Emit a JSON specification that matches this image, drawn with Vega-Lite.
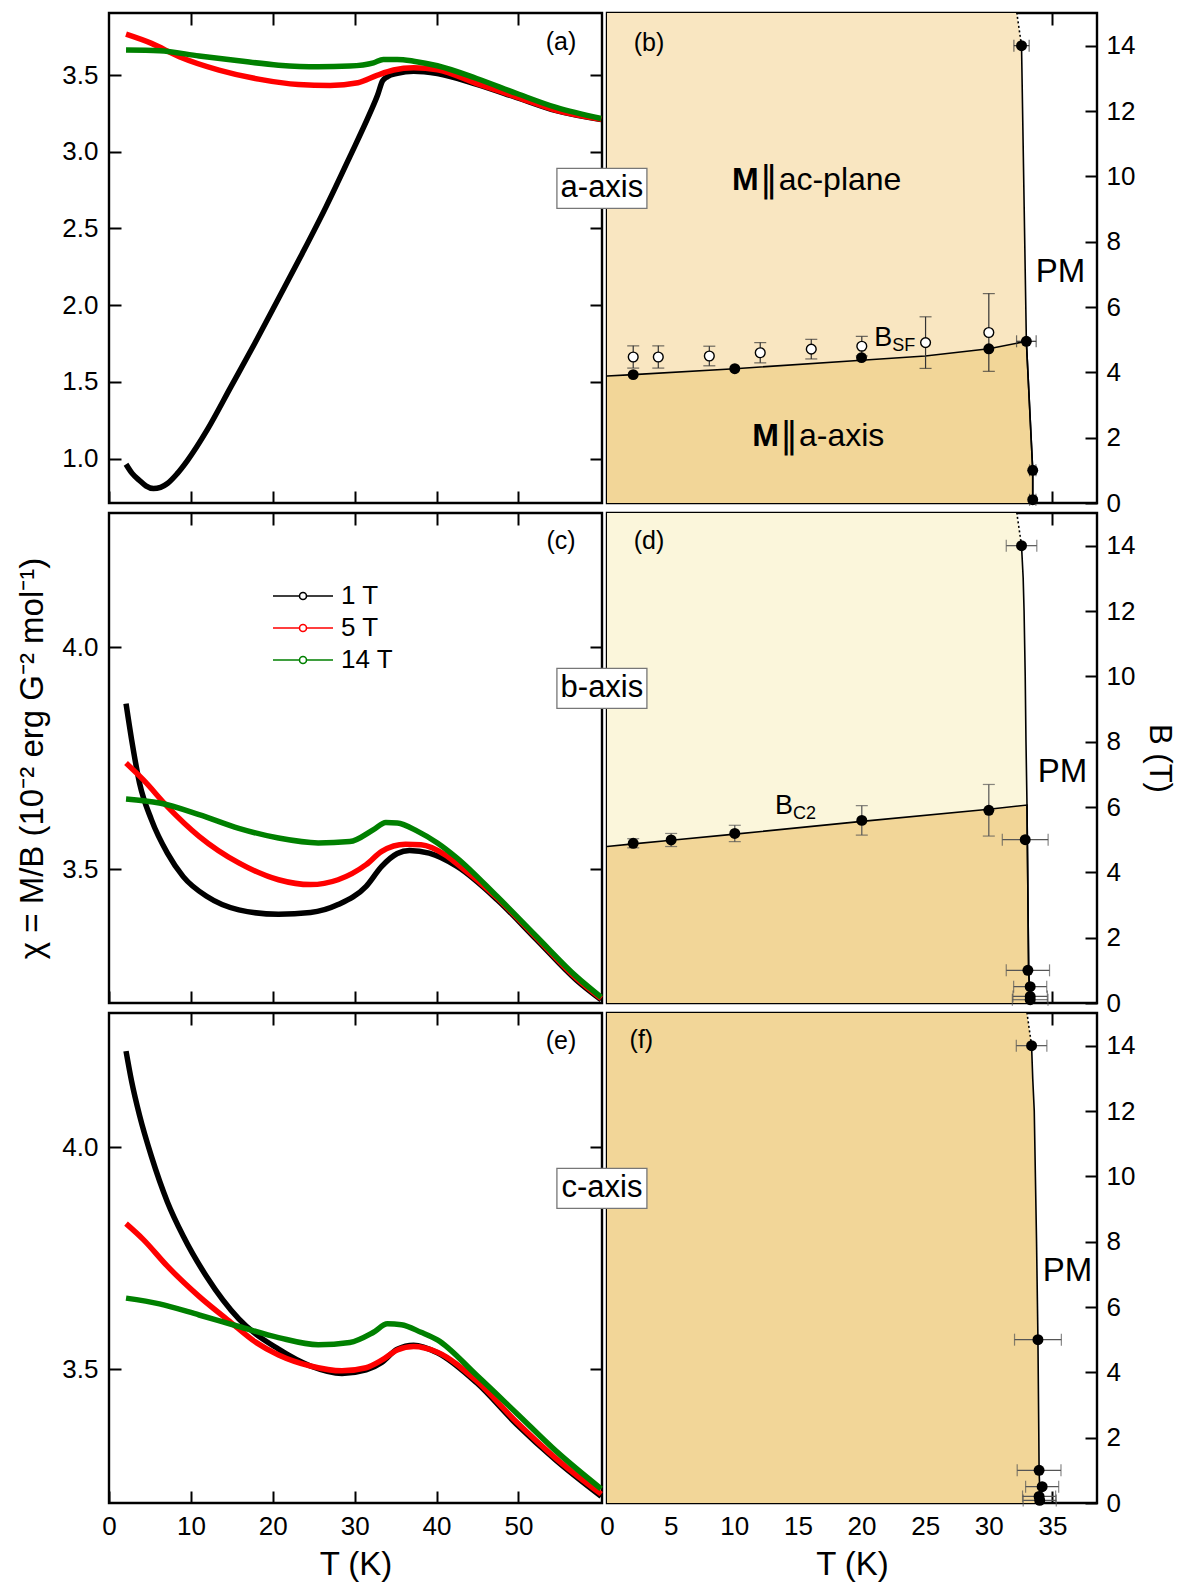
{
  "$schema": "https://vega.github.io/schema/vega-lite/v6.json",
  "background": "white",
  "padding": {"left": 15, "top": 8, "right": 0, "bottom": 4},
  "config": {
    "font": "Liberation Sans",
    "view": {"stroke": "black", "strokeWidth": 2.4},
    "axis": {
      "domain": false, "grid": false, "zindex": 1,
      "tickColor": "black", "tickWidth": 2, "tickSize": -12,
      "labelFont": "Liberation Sans", "labelFontSize": 26, "labelColor": "black",
      "labelOverlap": false, "labelFlush": false, "labelBound": false,
      "titleFont": "Liberation Sans", "titleFontSize": 33, "titleFontWeight": "normal", "titleColor": "black"
    },
    "axisLeft": {"labelPadding": 23, "titlePadding": 12},
    "axisRight": {"labelPadding": 21, "titlePadding": 8, "titleFontSize": 31},
    "axisBottom": {"labelPadding": 22, "titlePadding": 9},
    "text": {"color": "black"}
  },
  "columns": 2,
  "spacing": {"row": 10, "column": 5},
  "bounds": "flush",
  "resolve": {"scale": {"color": "independent"}, "legend": {"color": "independent"}},
  "datasets": {
    "chi_a": [
      {"field": "1 T", "T": 2.08, "chi": 0.963}, {"field": "1 T", "T": 2.8, "chi": 0.905}, {"field": "1 T", "T": 3.73, "chi": 0.857},
      {"field": "1 T", "T": 4.5, "chi": 0.822}, {"field": "1 T", "T": 5.43, "chi": 0.804}, {"field": "1 T", "T": 6.3, "chi": 0.812},
      {"field": "1 T", "T": 7.13, "chi": 0.837}, {"field": "1 T", "T": 8.3, "chi": 0.9}, {"field": "1 T", "T": 9.55, "chi": 0.985},
      {"field": "1 T", "T": 11.97, "chi": 1.185}, {"field": "1 T", "T": 14.88, "chi": 1.467}, {"field": "1 T", "T": 17.79, "chi": 1.75},
      {"field": "1 T", "T": 20.7, "chi": 2.043}, {"field": "1 T", "T": 23.6, "chi": 2.337}, {"field": "1 T", "T": 26.5, "chi": 2.641},
      {"field": "1 T", "T": 29.4, "chi": 2.967}, {"field": "1 T", "T": 31.85, "chi": 3.25}, {"field": "1 T", "T": 32.8, "chi": 3.37},
      {"field": "1 T", "T": 33.4, "chi": 3.462}, {"field": "1 T", "T": 34.0, "chi": 3.49}, {"field": "1 T", "T": 35.2, "chi": 3.512},
      {"field": "1 T", "T": 37.2, "chi": 3.526},
      {"field": "1 T", "T": 40.1, "chi": 3.51}, {"field": "1 T", "T": 44.9, "chi": 3.44}, {"field": "1 T", "T": 49.8, "chi": 3.353},
      {"field": "1 T", "T": 54.6, "chi": 3.268}, {"field": "1 T", "T": 60.1, "chi": 3.21},
      {"field": "5 T", "T": 2.08, "chi": 3.767}, {"field": "5 T", "T": 5.19, "chi": 3.707}, {"field": "5 T", "T": 8.58, "chi": 3.62},
      {"field": "5 T", "T": 13.43, "chi": 3.533}, {"field": "5 T", "T": 18.27, "chi": 3.474}, {"field": "5 T", "T": 23.12, "chi": 3.439},
      {"field": "5 T", "T": 27.0, "chi": 3.433}, {"field": "5 T", "T": 30.4, "chi": 3.45}, {"field": "5 T", "T": 32.8, "chi": 3.5},
      {"field": "5 T", "T": 34.75, "chi": 3.533}, {"field": "5 T", "T": 37.2, "chi": 3.548}, {"field": "5 T", "T": 40.1, "chi": 3.535},
      {"field": "5 T", "T": 44.9, "chi": 3.445}, {"field": "5 T", "T": 49.8, "chi": 3.357}, {"field": "5 T", "T": 54.6, "chi": 3.27},
      {"field": "5 T", "T": 60.1, "chi": 3.212},
      {"field": "14 T", "T": 2.08, "chi": 3.663}, {"field": "14 T", "T": 6.16, "chi": 3.659}, {"field": "14 T", "T": 11.0, "chi": 3.624},
      {"field": "14 T", "T": 15.85, "chi": 3.593}, {"field": "14 T", "T": 20.7, "chi": 3.565}, {"field": "14 T", "T": 25.55, "chi": 3.554},
      {"field": "14 T", "T": 29.4, "chi": 3.559}, {"field": "14 T", "T": 32.3, "chi": 3.58}, {"field": "14 T", "T": 33.5, "chi": 3.602},
      {"field": "14 T", "T": 35.2, "chi": 3.602}, {"field": "14 T", "T": 37.2, "chi": 3.591}, {"field": "14 T", "T": 40.1, "chi": 3.561},
      {"field": "14 T", "T": 44.9, "chi": 3.478}, {"field": "14 T", "T": 49.8, "chi": 3.38}, {"field": "14 T", "T": 54.6, "chi": 3.289},
      {"field": "14 T", "T": 60.1, "chi": 3.217}
    ],
    "chi_c": [
      {"field": "1 T", "T": 2.08, "chi": 3.873}, {"field": "1 T", "T": 2.76, "chi": 3.792}, {"field": "1 T", "T": 3.73, "chi": 3.694},
      {"field": "1 T", "T": 5.19, "chi": 3.611}, {"field": "1 T", "T": 7.13, "chi": 3.536}, {"field": "1 T", "T": 9.06, "chi": 3.483},
      {"field": "1 T", "T": 11.97, "chi": 3.438}, {"field": "1 T", "T": 15.85, "chi": 3.408}, {"field": "1 T", "T": 20.7, "chi": 3.398},
      {"field": "1 T", "T": 24.6, "chi": 3.402}, {"field": "1 T", "T": 27.97, "chi": 3.42}, {"field": "1 T", "T": 31.4, "chi": 3.461},
      {"field": "1 T", "T": 33.3, "chi": 3.506}, {"field": "1 T", "T": 35.2, "chi": 3.535}, {"field": "1 T", "T": 36.7, "chi": 3.542},
      {"field": "1 T", "T": 39.1, "chi": 3.536}, {"field": "1 T", "T": 42.5, "chi": 3.506}, {"field": "1 T", "T": 47.4, "chi": 3.431},
      {"field": "1 T", "T": 52.2, "chi": 3.341}, {"field": "1 T", "T": 57.05, "chi": 3.25}, {"field": "1 T", "T": 60.1, "chi": 3.205},
      {"field": "5 T", "T": 2.08, "chi": 3.739}, {"field": "5 T", "T": 4.2, "chi": 3.701}, {"field": "5 T", "T": 7.13, "chi": 3.641},
      {"field": "5 T", "T": 11.0, "chi": 3.574}, {"field": "5 T", "T": 15.85, "chi": 3.514}, {"field": "5 T", "T": 20.7, "chi": 3.476},
      {"field": "5 T", "T": 24.6, "chi": 3.465}, {"field": "5 T", "T": 27.97, "chi": 3.476}, {"field": "5 T", "T": 31.4, "chi": 3.51},
      {"field": "5 T", "T": 33.3, "chi": 3.54}, {"field": "5 T", "T": 36.2, "chi": 3.556}, {"field": "5 T", "T": 38.1, "chi": 3.555},
      {"field": "5 T", "T": 41.06, "chi": 3.532}, {"field": "5 T", "T": 42.5, "chi": 3.512}, {"field": "5 T", "T": 47.4, "chi": 3.435},
      {"field": "5 T", "T": 52.2, "chi": 3.345}, {"field": "5 T", "T": 57.05, "chi": 3.254}, {"field": "5 T", "T": 60.1, "chi": 3.208},
      {"field": "14 T", "T": 2.08, "chi": 3.658}, {"field": "14 T", "T": 6.16, "chi": 3.649}, {"field": "14 T", "T": 11.0, "chi": 3.623},
      {"field": "14 T", "T": 15.85, "chi": 3.592}, {"field": "14 T", "T": 20.7, "chi": 3.57}, {"field": "14 T", "T": 25.55, "chi": 3.559},
      {"field": "14 T", "T": 29.4, "chi": 3.562}, {"field": "14 T", "T": 32.3, "chi": 3.589}, {"field": "14 T", "T": 33.8, "chi": 3.605},
      {"field": "14 T", "T": 35.2, "chi": 3.604}, {"field": "14 T", "T": 37.7, "chi": 3.585}, {"field": "14 T", "T": 40.1, "chi": 3.559},
      {"field": "14 T", "T": 42.5, "chi": 3.525}, {"field": "14 T", "T": 47.4, "chi": 3.438}, {"field": "14 T", "T": 52.2, "chi": 3.348},
      {"field": "14 T", "T": 57.05, "chi": 3.258}, {"field": "14 T", "T": 60.1, "chi": 3.211}
    ],
    "chi_e": [
      {"field": "1 T", "T": 2.08, "chi": 4.217}, {"field": "1 T", "T": 2.76, "chi": 4.149}, {"field": "1 T", "T": 3.73, "chi": 4.072},
      {"field": "1 T", "T": 5.19, "chi": 3.979}, {"field": "1 T", "T": 7.13, "chi": 3.877}, {"field": "1 T", "T": 9.06, "chi": 3.8},
      {"field": "1 T", "T": 11.97, "chi": 3.707}, {"field": "1 T", "T": 15.85, "chi": 3.613}, {"field": "1 T", "T": 20.7, "chi": 3.545},
      {"field": "1 T", "T": 24.6, "chi": 3.507}, {"field": "1 T", "T": 28.45, "chi": 3.49}, {"field": "1 T", "T": 31.4, "chi": 3.498},
      {"field": "1 T", "T": 33.3, "chi": 3.515}, {"field": "1 T", "T": 35.2, "chi": 3.545}, {"field": "1 T", "T": 37.2, "chi": 3.554},
      {"field": "1 T", "T": 40.1, "chi": 3.537}, {"field": "1 T", "T": 44.9, "chi": 3.469}, {"field": "1 T", "T": 49.8, "chi": 3.375},
      {"field": "1 T", "T": 54.6, "chi": 3.294}, {"field": "1 T", "T": 60.1, "chi": 3.213},
      {"field": "5 T", "T": 2.08, "chi": 3.828}, {"field": "5 T", "T": 4.2, "chi": 3.792}, {"field": "5 T", "T": 7.13, "chi": 3.732},
      {"field": "5 T", "T": 11.0, "chi": 3.664}, {"field": "5 T", "T": 14.9, "chi": 3.605}, {"field": "5 T", "T": 17.8, "chi": 3.562},
      {"field": "5 T", "T": 20.7, "chi": 3.532}, {"field": "5 T", "T": 24.6, "chi": 3.507}, {"field": "5 T", "T": 28.45, "chi": 3.496},
      {"field": "5 T", "T": 31.4, "chi": 3.503}, {"field": "5 T", "T": 33.3, "chi": 3.52}, {"field": "5 T", "T": 35.2, "chi": 3.543},
      {"field": "5 T", "T": 37.2, "chi": 3.551}, {"field": "5 T", "T": 40.1, "chi": 3.538}, {"field": "5 T", "T": 44.9, "chi": 3.473},
      {"field": "5 T", "T": 49.8, "chi": 3.38}, {"field": "5 T", "T": 54.6, "chi": 3.298}, {"field": "5 T", "T": 60.1, "chi": 3.218},
      {"field": "14 T", "T": 2.08, "chi": 3.66}, {"field": "14 T", "T": 6.16, "chi": 3.647}, {"field": "14 T", "T": 11.0, "chi": 3.622},
      {"field": "14 T", "T": 15.85, "chi": 3.596}, {"field": "14 T", "T": 20.7, "chi": 3.571}, {"field": "14 T", "T": 25.55, "chi": 3.555},
      {"field": "14 T", "T": 29.4, "chi": 3.56}, {"field": "14 T", "T": 32.3, "chi": 3.583}, {"field": "14 T", "T": 34.0, "chi": 3.602},
      {"field": "14 T", "T": 35.7, "chi": 3.6}, {"field": "14 T", "T": 38.1, "chi": 3.583}, {"field": "14 T", "T": 40.1, "chi": 3.566},
      {"field": "14 T", "T": 44.9, "chi": 3.486}, {"field": "14 T", "T": 49.8, "chi": 3.4}, {"field": "14 T", "T": 54.6, "chi": 3.315},
      {"field": "14 T", "T": 60.1, "chi": 3.23}
    ],
    "b_tc": [
      {"T": 33.45, "B": 0, "segment": "measured"}, {"T": 33.45, "B": 1.0, "segment": "measured"},
      {"T": 32.95, "B": 4.95, "segment": "measured"}, {"T": 32.57, "B": 14, "segment": "measured"},
      {"T": 32.57, "B": 14, "segment": "extrapolated"}, {"T": 32.2, "B": 15, "segment": "extrapolated"}
    ],
    "b_lower": [
      {"T": 0, "B": 3.89}, {"T": 2.06, "B": 3.93}, {"T": 10.04, "B": 4.11}, {"T": 20.0, "B": 4.37},
      {"T": 25.0, "B": 4.5}, {"T": 30.0, "B": 4.72}, {"T": 32.95, "B": 4.95}, {"T": 33.45, "B": 1.0}, {"T": 33.45, "B": 0}
    ],
    "b_tcpts": [
      {"T": 32.57, "B": 14, "dT": 0.6}, {"T": 32.95, "B": 4.95, "dT": 0.77},
      {"T": 33.45, "B": 1.0, "dT": 0.25}, {"T": 33.45, "B": 0.1, "dT": 0.25}
    ],
    "b_sf_filled": [
      {"T": 2.06, "B": 3.93}, {"T": 10.04, "B": 4.11}, {"T": 20.0, "B": 4.45}, {"T": 30.0, "B": 4.72}
    ],
    "b_sf_open": [
      {"T": 2.06, "B": 4.47, "dB": 0.34}, {"T": 4.03, "B": 4.47, "dB": 0.34}, {"T": 8.04, "B": 4.5, "dB": 0.3},
      {"T": 12.04, "B": 4.6, "dB": 0.31}, {"T": 16.05, "B": 4.71, "dB": 0.3}, {"T": 20.02, "B": 4.8, "dB": 0.3},
      {"T": 25.03, "B": 4.91, "dB": 0.79}, {"T": 30.0, "B": 5.22, "dB": 1.19}
    ],
    "b_regions": [
      {"T": 12.7, "B": 9.9, "head": "M", "tail": "ac-plane"},
      {"T": 14.3, "B": 2.05, "head": "M", "tail": "a-axis"}
    ],
    "b_sublabel": [{"T": 21.0, "B": 5.06, "main": "B", "sub": "SF"}],
    "d_tc": [
      {"T": 33.25, "B": 0, "segment": "measured"}, {"T": 33.13, "B": 1.0, "segment": "measured"},
      {"T": 33.0, "B": 6.06, "segment": "measured"}, {"T": 32.92, "B": 8, "segment": "measured"},
      {"T": 32.86, "B": 10, "segment": "measured"}, {"T": 32.77, "B": 12, "segment": "measured"},
      {"T": 32.7, "B": 13, "segment": "measured"}, {"T": 32.57, "B": 14, "segment": "measured"},
      {"T": 32.57, "B": 14, "segment": "extrapolated"}, {"T": 32.2, "B": 15, "segment": "extrapolated"}
    ],
    "d_lower": [
      {"T": 0, "B": 4.79}, {"T": 2.06, "B": 4.87}, {"T": 5.04, "B": 4.98}, {"T": 10.04, "B": 5.17},
      {"T": 20.02, "B": 5.56}, {"T": 30.0, "B": 5.93}, {"T": 33.0, "B": 6.06}, {"T": 33.13, "B": 1.0}, {"T": 33.25, "B": 0}
    ],
    "d_tcpts": [
      {"T": 32.57, "B": 14, "dT": 1.2}, {"T": 32.86, "B": 5.0, "dT": 1.8}, {"T": 33.07, "B": 1.0, "dT": 1.7},
      {"T": 33.25, "B": 0.5, "dT": 1.3}, {"T": 33.25, "B": 0.2, "dT": 1.35}, {"T": 33.25, "B": 0.1, "dT": 1.4}
    ],
    "d_bc2": [
      {"T": 2.06, "B": 4.89, "dB": 0.14}, {"T": 5.04, "B": 4.99, "dB": 0.2}, {"T": 10.04, "B": 5.19, "dB": 0.25},
      {"T": 20.02, "B": 5.59, "dB": 0.45}, {"T": 30.0, "B": 5.9, "dB": 0.79}
    ],
    "d_sublabel": [{"T": 13.2, "B": 6.04, "main": "B", "sub": "C2"}],
    "f_tc": [
      {"T": 34.04, "B": 0, "segment": "measured"}, {"T": 33.95, "B": 1, "segment": "measured"},
      {"T": 33.93, "B": 2, "segment": "measured"}, {"T": 33.86, "B": 5, "segment": "measured"},
      {"T": 33.75, "B": 8, "segment": "measured"}, {"T": 33.66, "B": 10, "segment": "measured"},
      {"T": 33.57, "B": 12, "segment": "measured"}, {"T": 33.45, "B": 13, "segment": "measured"},
      {"T": 33.36, "B": 14, "segment": "measured"},
      {"T": 33.36, "B": 14, "segment": "extrapolated"}, {"T": 33.0, "B": 15, "segment": "extrapolated"}
    ],
    "f_tcpts": [
      {"T": 33.36, "B": 14, "dT": 1.2}, {"T": 33.86, "B": 5.0, "dT": 1.84}, {"T": 33.95, "B": 1.0, "dT": 1.72},
      {"T": 34.19, "B": 0.5, "dT": 1.3}, {"T": 33.95, "B": 0.2, "dT": 1.3}, {"T": 34.0, "B": 0.08, "dT": 1.3}
    ]
  },
  "concat": [
    {
      "width": 493, "height": 490,
      "resolve": {"axis": {"x": "independent", "y": "independent"}},
      "layer": [
        {
          "data": {"name": "chi_a"},
          "mark": {"type": "line", "interpolate": "monotone", "strokeWidth": 5.5},
          "encoding": {
            "x": {"field": "T", "type": "quantitative", "scale": {"domain": [0, 60.2], "nice": false, "zero": false},
                  "axis": {"orient": "bottom", "values": [0, 10, 20, 30, 40, 50], "labels": false, "title": null}},
            "y": {"field": "chi", "type": "quantitative", "scale": {"domain": [0.71, 3.905], "nice": false, "zero": false},
                  "axis": {"orient": "left", "values": [1, 1.5, 2, 2.5, 3, 3.5], "format": ".1f", "title": null}},
            "color": {"field": "field", "type": "nominal", "scale": {"domain": ["1 T", "5 T", "14 T"], "range": ["#000000", "#ff0000", "#008000"]}, "legend": null}
          }
        },
        {
          "data": {"values": [{"T": 55.2, "chi": 3.718, "tag": "(a)"}]},
          "mark": {"type": "text", "fontSize": 25, "align": "center", "baseline": "middle"},
          "encoding": {
            "x": {"field": "T", "type": "quantitative", "axis": {"orient": "top", "values": [10, 20, 30, 40, 50], "labels": false, "title": null}},
            "y": {"field": "chi", "type": "quantitative", "axis": {"orient": "right", "values": [1, 1.5, 2, 2.5, 3, 3.5], "labels": false, "title": null}},
            "text": {"field": "tag"}
          }
        }
      ]
    },
    {
      "width": 490, "height": 490,
      "resolve": {"axis": {"x": "independent", "y": "independent"}},
      "layer": [
        {
          "data": {"name": "b_tc"},
          "mark": {"type": "area", "orient": "horizontal", "color": "#F9E6C1", "opacity": 1},
          "encoding": {
            "y": {"field": "B", "type": "quantitative", "scale": {"domain": [0, 15], "nice": false, "zero": false},
                  "axis": {"orient": "right", "values": [0, 2, 4, 6, 8, 10, 12, 14], "title": null}},
            "x": {"field": "T", "type": "quantitative", "scale": {"domain": [0, 38.5], "nice": false, "zero": false},
                  "axis": {"orient": "bottom", "values": [0, 5, 10, 15, 20, 25, 30, 35], "labels": false, "title": null}},
            "x2": {"datum": 0}
          }
        },
        {
          "data": {"name": "b_lower"},
          "mark": {"type": "area", "color": "#F2D698", "opacity": 1},
          "encoding": {
            "x": {"field": "T", "type": "quantitative", "axis": {"orient": "top", "values": [5, 10, 15, 20, 25, 30, 35], "labels": false, "title": null}},
            "y": {"field": "B", "type": "quantitative", "axis": {"orient": "left", "values": [2, 4, 6, 8, 12, 14], "labels": false, "title": null}},
            "y2": {"datum": 0}
          }
        },
        {
          "data": {"name": "b_lower"},
          "mark": {"type": "line", "color": "black", "strokeWidth": 1.6},
          "encoding": {
            "x": {"field": "T", "type": "quantitative", "axis": null},
            "y": {"field": "B", "type": "quantitative", "axis": null}
          }
        },
        {
          "data": {"name": "b_tc"},
          "mark": {"type": "line", "color": "black", "strokeWidth": 1.6},
          "encoding": {
            "x": {"field": "T", "type": "quantitative", "axis": null},
            "y": {"field": "B", "type": "quantitative", "axis": null},
            "order": {"field": "B", "type": "quantitative"},
            "strokeDash": {"field": "segment", "type": "nominal", "scale": {"domain": ["measured", "extrapolated"], "range": [[1, 0], [2, 2.5]]}, "legend": null}
          }
        },
        {
          "data": {"name": "b_sf_open"},
          "mark": {"type": "errorbar", "ticks": {"size": 12}, "color": "#333333", "thickness": 1.2},
          "encoding": {
            "x": {"field": "T", "type": "quantitative", "axis": null},
            "y": {"field": "B", "type": "quantitative", "axis": null},
            "yError": {"field": "dB"}
          }
        },
        {
          "data": {"name": "b_tcpts"},
          "mark": {"type": "errorbar", "ticks": {"size": 12}, "color": "#333333", "thickness": 1.2},
          "encoding": {
            "x": {"field": "T", "type": "quantitative", "axis": null},
            "xError": {"field": "dT"},
            "y": {"field": "B", "type": "quantitative", "axis": null}
          }
        },
        {
          "data": {"name": "b_sf_open"},
          "mark": {"type": "point", "shape": "circle", "filled": true, "fill": "white", "stroke": "black", "strokeWidth": 1.4, "size": 95, "opacity": 1},
          "encoding": {
            "x": {"field": "T", "type": "quantitative", "axis": null},
            "y": {"field": "B", "type": "quantitative", "axis": null}
          }
        },
        {
          "data": {"name": "b_sf_filled"},
          "mark": {"type": "circle", "color": "black", "size": 120, "opacity": 1},
          "encoding": {
            "x": {"field": "T", "type": "quantitative", "axis": null},
            "y": {"field": "B", "type": "quantitative", "axis": null}
          }
        },
        {
          "data": {"name": "b_tcpts"},
          "mark": {"type": "circle", "color": "black", "size": 120, "opacity": 1},
          "encoding": {
            "x": {"field": "T", "type": "quantitative", "axis": null},
            "y": {"field": "B", "type": "quantitative", "axis": null}
          }
        },
        {
          "data": {"values": [{"T": 3.3, "B": 14.07, "tag": "(b)"}]},
          "mark": {"type": "text", "fontSize": 25, "align": "center", "baseline": "middle"},
          "encoding": {
            "x": {"field": "T", "type": "quantitative", "axis": null},
            "y": {"field": "B", "type": "quantitative", "axis": null},
            "text": {"field": "tag"}
          }
        },
        {
          "data": {"name": "b_regions"},
          "mark": {"type": "text", "fontSize": 32, "fontWeight": "bold", "align": "right", "baseline": "middle", "dx": -10},
          "encoding": {
            "x": {"field": "T", "type": "quantitative", "axis": null},
            "y": {"field": "B", "type": "quantitative", "axis": null},
            "text": {"field": "head"}
          }
        },
        {
          "data": {"name": "b_regions"},
          "mark": {"type": "text", "fontSize": 36, "font": "DejaVu Sans", "align": "center", "baseline": "middle", "text": "‖"},
          "encoding": {
            "x": {"field": "T", "type": "quantitative", "axis": null},
            "y": {"field": "B", "type": "quantitative", "axis": null}
          }
        },
        {
          "data": {"name": "b_regions"},
          "mark": {"type": "text", "fontSize": 32, "align": "left", "baseline": "middle", "dx": 10},
          "encoding": {
            "x": {"field": "T", "type": "quantitative", "axis": null},
            "y": {"field": "B", "type": "quantitative", "axis": null},
            "text": {"field": "tail"}
          }
        },
        {
          "data": {"name": "b_sublabel"},
          "mark": {"type": "text", "fontSize": 27, "align": "left", "baseline": "middle"},
          "encoding": {
            "x": {"field": "T", "type": "quantitative", "axis": null},
            "y": {"field": "B", "type": "quantitative", "axis": null},
            "text": {"field": "main"}
          }
        },
        {
          "data": {"name": "b_sublabel"},
          "mark": {"type": "text", "fontSize": 18, "align": "left", "baseline": "middle", "dx": 18, "dy": 8},
          "encoding": {
            "x": {"field": "T", "type": "quantitative", "axis": null},
            "y": {"field": "B", "type": "quantitative", "axis": null},
            "text": {"field": "sub"}
          }
        },
        {
          "data": {"values": [{"T": 35.63, "B": 7.07, "txt": "PM"}]},
          "mark": {"type": "text", "fontSize": 33, "align": "center", "baseline": "middle"},
          "encoding": {
            "x": {"field": "T", "type": "quantitative", "axis": null},
            "y": {"field": "B", "type": "quantitative", "axis": null},
            "text": {"field": "txt"}
          }
        },
        {
          "data": {"values": [{"T": -0.4, "B": 9.63, "txt": "a-axis"}]},
          "mark": {"type": "point", "shape": "M-2.25,-1H2.25V1H-2.25Z", "size": 1600, "filled": true, "fill": "white", "stroke": "#777777", "strokeWidth": 1.3, "opacity": 1},
          "encoding": {
            "x": {"field": "T", "type": "quantitative", "axis": null},
            "y": {"field": "B", "type": "quantitative", "axis": null}
          }
        },
        {
          "data": {"values": [{"T": -0.4, "B": 9.63, "txt": "a-axis"}]},
          "mark": {"type": "text", "fontSize": 31, "align": "center", "baseline": "middle"},
          "encoding": {
            "x": {"field": "T", "type": "quantitative", "axis": null},
            "y": {"field": "B", "type": "quantitative", "axis": null},
            "text": {"field": "txt"}
          }
        }
      ]
    },
    {
      "width": 493, "height": 490,
      "resolve": {"axis": {"x": "independent", "y": "independent"}},
      "layer": [
        {
          "data": {"name": "chi_c"},
          "mark": {"type": "line", "interpolate": "monotone", "strokeWidth": 5.5},
          "encoding": {
            "x": {"field": "T", "type": "quantitative", "scale": {"domain": [0, 60.2], "nice": false, "zero": false},
                  "axis": {"orient": "bottom", "values": [0, 10, 20, 30, 40, 50], "labels": false, "title": null}},
            "y": {"field": "chi", "type": "quantitative", "scale": {"domain": [3.198, 4.303], "nice": false, "zero": false},
                  "axis": {"orient": "left", "values": [3.5, 4.0], "format": ".1f", "title": "χ = M/B (10⁻² erg G⁻² mol⁻¹)"}},
            "color": {"field": "field", "type": "nominal", "scale": {"domain": ["1 T", "5 T", "14 T"], "range": ["#000000", "#ff0000", "#008000"]},
                      "legend": {"orient": "none", "legendX": 181, "legendY": 70, "title": null, "padding": 0,
                                 "symbolType": "M-3,0H-0.35M0.35,0H3M0.35,0A0.35,0.35,0,1,1,-0.35,0A0.35,0.35,0,1,1,0.35,0",
                                 "symbolSize": 400, "symbolStrokeWidth": 1.6, "labelFontSize": 26, "labelFont": "Liberation Sans",
                                 "labelColor": "black", "labelOffset": 25, "rowPadding": 6,
                                 "encode": {"symbols": {"update": {"strokeWidth": {"value": 1.6}, "fill": {"value": "white"}}}}}}
          }
        },
        {
          "data": {"values": [{"T": 55.2, "chi": 4.24, "tag": "(c)"}]},
          "mark": {"type": "text", "fontSize": 25, "align": "center", "baseline": "middle"},
          "encoding": {
            "x": {"field": "T", "type": "quantitative", "axis": {"orient": "top", "values": [10, 20, 30, 40, 50], "labels": false, "title": null}},
            "y": {"field": "chi", "type": "quantitative", "axis": {"orient": "right", "values": [3.5, 4.0], "labels": false, "title": null}},
            "text": {"field": "tag"}
          }
        }
      ]
    },
    {
      "width": 490, "height": 490,
      "resolve": {"axis": {"x": "independent", "y": "independent"}},
      "layer": [
        {
          "data": {"name": "d_tc"},
          "mark": {"type": "area", "orient": "horizontal", "color": "#FBF6DB", "opacity": 1},
          "encoding": {
            "y": {"field": "B", "type": "quantitative", "scale": {"domain": [0, 15], "nice": false, "zero": false},
                  "axis": {"orient": "right", "values": [0, 2, 4, 6, 8, 10, 12, 14], "title": "B (T)"}},
            "x": {"field": "T", "type": "quantitative", "scale": {"domain": [0, 38.5], "nice": false, "zero": false},
                  "axis": {"orient": "bottom", "values": [0, 5, 10, 15, 20, 25, 30, 35], "labels": false, "title": null}},
            "x2": {"datum": 0}
          }
        },
        {
          "data": {"name": "d_lower"},
          "mark": {"type": "area", "color": "#F2D698", "opacity": 1},
          "encoding": {
            "x": {"field": "T", "type": "quantitative", "axis": {"orient": "top", "values": [5, 10, 15, 20, 25, 30, 35], "labels": false, "title": null}},
            "y": {"field": "B", "type": "quantitative", "axis": {"orient": "left", "values": [2, 4, 6, 8, 12, 14], "labels": false, "title": null}},
            "y2": {"datum": 0}
          }
        },
        {
          "data": {"name": "d_lower"},
          "mark": {"type": "line", "color": "black", "strokeWidth": 1.6},
          "encoding": {
            "x": {"field": "T", "type": "quantitative", "axis": null},
            "y": {"field": "B", "type": "quantitative", "axis": null}
          }
        },
        {
          "data": {"name": "d_tc"},
          "mark": {"type": "line", "color": "black", "strokeWidth": 1.6},
          "encoding": {
            "x": {"field": "T", "type": "quantitative", "axis": null},
            "y": {"field": "B", "type": "quantitative", "axis": null},
            "order": {"field": "B", "type": "quantitative"},
            "strokeDash": {"field": "segment", "type": "nominal", "scale": {"domain": ["measured", "extrapolated"], "range": [[1, 0], [2, 2.5]]}, "legend": null}
          }
        },
        {
          "data": {"name": "d_bc2"},
          "mark": {"type": "errorbar", "ticks": {"size": 12}, "color": "#555555", "thickness": 1.2},
          "encoding": {
            "x": {"field": "T", "type": "quantitative", "axis": null},
            "y": {"field": "B", "type": "quantitative", "axis": null},
            "yError": {"field": "dB"}
          }
        },
        {
          "data": {"name": "d_tcpts"},
          "mark": {"type": "errorbar", "ticks": {"size": 12}, "color": "#555555", "thickness": 1.2},
          "encoding": {
            "x": {"field": "T", "type": "quantitative", "axis": null},
            "xError": {"field": "dT"},
            "y": {"field": "B", "type": "quantitative", "axis": null}
          }
        },
        {
          "data": {"name": "d_bc2"},
          "mark": {"type": "circle", "color": "black", "size": 120, "opacity": 1},
          "encoding": {
            "x": {"field": "T", "type": "quantitative", "axis": null},
            "y": {"field": "B", "type": "quantitative", "axis": null}
          }
        },
        {
          "data": {"name": "d_tcpts"},
          "mark": {"type": "circle", "color": "black", "size": 120, "opacity": 1},
          "encoding": {
            "x": {"field": "T", "type": "quantitative", "axis": null},
            "y": {"field": "B", "type": "quantitative", "axis": null}
          }
        },
        {
          "data": {"values": [{"T": 3.3, "B": 14.15, "tag": "(d)"}]},
          "mark": {"type": "text", "fontSize": 25, "align": "center", "baseline": "middle"},
          "encoding": {
            "x": {"field": "T", "type": "quantitative", "axis": null},
            "y": {"field": "B", "type": "quantitative", "axis": null},
            "text": {"field": "tag"}
          }
        },
        {
          "data": {"name": "d_sublabel"},
          "mark": {"type": "text", "fontSize": 27, "align": "left", "baseline": "middle"},
          "encoding": {
            "x": {"field": "T", "type": "quantitative", "axis": null},
            "y": {"field": "B", "type": "quantitative", "axis": null},
            "text": {"field": "main"}
          }
        },
        {
          "data": {"name": "d_sublabel"},
          "mark": {"type": "text", "fontSize": 18, "align": "left", "baseline": "middle", "dx": 18, "dy": 8},
          "encoding": {
            "x": {"field": "T", "type": "quantitative", "axis": null},
            "y": {"field": "B", "type": "quantitative", "axis": null},
            "text": {"field": "sub"}
          }
        },
        {
          "data": {"values": [{"T": 35.78, "B": 7.06, "txt": "PM"}]},
          "mark": {"type": "text", "fontSize": 33, "align": "center", "baseline": "middle"},
          "encoding": {
            "x": {"field": "T", "type": "quantitative", "axis": null},
            "y": {"field": "B", "type": "quantitative", "axis": null},
            "text": {"field": "txt"}
          }
        },
        {
          "data": {"values": [{"T": -0.4, "B": 9.63, "txt": "b-axis"}]},
          "mark": {"type": "point", "shape": "M-2.25,-1H2.25V1H-2.25Z", "size": 1600, "filled": true, "fill": "white", "stroke": "#777777", "strokeWidth": 1.3, "opacity": 1},
          "encoding": {
            "x": {"field": "T", "type": "quantitative", "axis": null},
            "y": {"field": "B", "type": "quantitative", "axis": null}
          }
        },
        {
          "data": {"values": [{"T": -0.4, "B": 9.63, "txt": "b-axis"}]},
          "mark": {"type": "text", "fontSize": 31, "align": "center", "baseline": "middle"},
          "encoding": {
            "x": {"field": "T", "type": "quantitative", "axis": null},
            "y": {"field": "B", "type": "quantitative", "axis": null},
            "text": {"field": "txt"}
          }
        }
      ]
    },
    {
      "width": 493, "height": 490,
      "resolve": {"axis": {"x": "independent", "y": "independent"}},
      "layer": [
        {
          "data": {"name": "chi_e"},
          "mark": {"type": "line", "interpolate": "monotone", "strokeWidth": 5.5},
          "encoding": {
            "x": {"field": "T", "type": "quantitative", "scale": {"domain": [0, 60.2], "nice": false, "zero": false},
                  "axis": {"orient": "bottom", "values": [0, 10, 20, 30, 40, 50], "title": "T (K)"}},
            "y": {"field": "chi", "type": "quantitative", "scale": {"domain": [3.198, 4.303], "nice": false, "zero": false},
                  "axis": {"orient": "left", "values": [3.5, 4.0], "format": ".1f", "title": null}},
            "color": {"field": "field", "type": "nominal", "scale": {"domain": ["1 T", "5 T", "14 T"], "range": ["#000000", "#ff0000", "#008000"]}, "legend": null}
          }
        },
        {
          "data": {"values": [{"T": 55.2, "chi": 4.24, "tag": "(e)"}]},
          "mark": {"type": "text", "fontSize": 25, "align": "center", "baseline": "middle"},
          "encoding": {
            "x": {"field": "T", "type": "quantitative", "axis": {"orient": "top", "values": [10, 20, 30, 40, 50], "labels": false, "title": null}},
            "y": {"field": "chi", "type": "quantitative", "axis": {"orient": "right", "values": [3.5, 4.0], "labels": false, "title": null}},
            "text": {"field": "tag"}
          }
        }
      ]
    },
    {
      "width": 490, "height": 490,
      "resolve": {"axis": {"x": "independent", "y": "independent"}},
      "layer": [
        {
          "data": {"name": "f_tc"},
          "mark": {"type": "area", "orient": "horizontal", "color": "#F2D698", "opacity": 1},
          "encoding": {
            "y": {"field": "B", "type": "quantitative", "scale": {"domain": [0, 15], "nice": false, "zero": false},
                  "axis": {"orient": "right", "values": [0, 2, 4, 6, 8, 10, 12, 14], "title": null}},
            "x": {"field": "T", "type": "quantitative", "scale": {"domain": [0, 38.5], "nice": false, "zero": false},
                  "axis": {"orient": "bottom", "values": [0, 5, 10, 15, 20, 25, 30, 35], "title": "T (K)"}},
            "x2": {"datum": 0}
          }
        },
        {
          "data": {"name": "f_tc"},
          "mark": {"type": "line", "color": "black", "strokeWidth": 1.6},
          "encoding": {
            "x": {"field": "T", "type": "quantitative", "axis": {"orient": "top", "values": [5, 10, 15, 20, 25, 30, 35], "labels": false, "title": null}},
            "y": {"field": "B", "type": "quantitative", "axis": {"orient": "left", "values": [2, 4, 6, 8, 12, 14], "labels": false, "title": null}},
            "order": {"field": "B", "type": "quantitative"},
            "strokeDash": {"field": "segment", "type": "nominal", "scale": {"domain": ["measured", "extrapolated"], "range": [[1, 0], [2, 2.5]]}, "legend": null}
          }
        },
        {
          "data": {"name": "f_tcpts"},
          "mark": {"type": "errorbar", "ticks": {"size": 12}, "color": "#555555", "thickness": 1.2},
          "encoding": {
            "x": {"field": "T", "type": "quantitative", "axis": null},
            "xError": {"field": "dT"},
            "y": {"field": "B", "type": "quantitative", "axis": null}
          }
        },
        {
          "data": {"name": "f_tcpts"},
          "mark": {"type": "circle", "color": "black", "size": 120, "opacity": 1},
          "encoding": {
            "x": {"field": "T", "type": "quantitative", "axis": null},
            "y": {"field": "B", "type": "quantitative", "axis": null}
          }
        },
        {
          "data": {"values": [{"T": 2.7, "B": 14.18, "tag": "(f)"}]},
          "mark": {"type": "text", "fontSize": 25, "align": "center", "baseline": "middle"},
          "encoding": {
            "x": {"field": "T", "type": "quantitative", "axis": null},
            "y": {"field": "B", "type": "quantitative", "axis": null},
            "text": {"field": "tag"}
          }
        },
        {
          "data": {"values": [{"T": 36.19, "B": 7.09, "txt": "PM"}]},
          "mark": {"type": "text", "fontSize": 33, "align": "center", "baseline": "middle"},
          "encoding": {
            "x": {"field": "T", "type": "quantitative", "axis": null},
            "y": {"field": "B", "type": "quantitative", "axis": null},
            "text": {"field": "txt"}
          }
        },
        {
          "data": {"values": [{"T": -0.4, "B": 9.63, "txt": "c-axis"}]},
          "mark": {"type": "point", "shape": "M-2.25,-1H2.25V1H-2.25Z", "size": 1600, "filled": true, "fill": "white", "stroke": "#777777", "strokeWidth": 1.3, "opacity": 1},
          "encoding": {
            "x": {"field": "T", "type": "quantitative", "axis": null},
            "y": {"field": "B", "type": "quantitative", "axis": null}
          }
        },
        {
          "data": {"values": [{"T": -0.4, "B": 9.63, "txt": "c-axis"}]},
          "mark": {"type": "text", "fontSize": 31, "align": "center", "baseline": "middle"},
          "encoding": {
            "x": {"field": "T", "type": "quantitative", "axis": null},
            "y": {"field": "B", "type": "quantitative", "axis": null},
            "text": {"field": "txt"}
          }
        }
      ]
    }
  ]
}
